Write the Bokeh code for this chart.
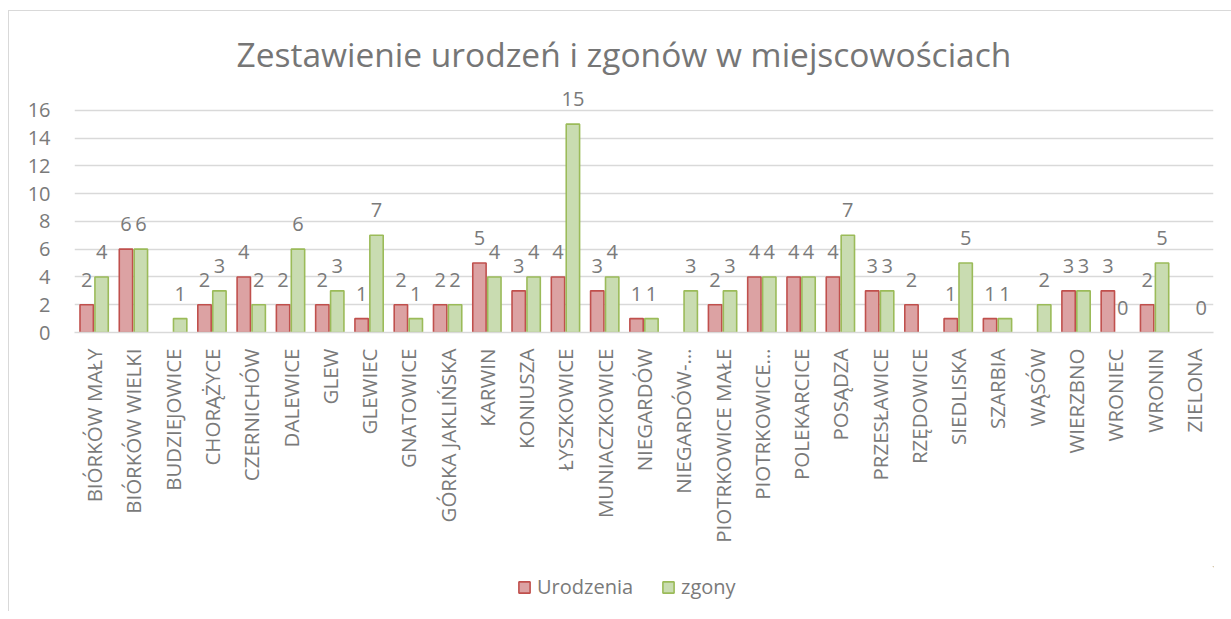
from bokeh.plotting import figure
from bokeh.layouts import column
from bokeh.models import (ColumnDataSource, FactorRange, Range1d, FixedTicker,
                          Legend, LegendItem)
from bokeh.transform import dodge
from bokeh.embed import file_html
from bokeh.resources import INLINE
from bokeh.core.properties import value

# ---- data ----
miejscowosci = [
    "BIÓRKÓW MAŁY", "BIÓRKÓW WIELKI", "BUDZIEJOWICE", "CHORĄŻYCE", "CZERNICHÓW",
    "DALEWICE", "GLEW", "GLEWIEC", "GNATOWICE", "GÓRKA JAKLIŃSKA", "KARWIN",
    "KONIUSZA", "ŁYSZKOWICE", "MUNIACZKOWICE", "NIEGARDÓW", "NIEGARDÓW-…",
    "PIOTRKOWICE MAŁE", "PIOTRKOWICE…", "POLEKARCICE", "POSĄDZA", "PRZESŁAWICE",
    "RZĘDOWICE", "SIEDLISKA", "SZARBIA", "WĄSÓW", "WIERZBNO", "WRONIEC",
    "WRONIN", "ZIELONA",
]
urodzenia = [2, 6, None, 2, 4, 2, 2, 1, 2, 2, 5, 3, 4, 3, 1, None, 2, 4, 4, 4,
             3, 2, 1, 1, None, 3, 3, 2, None]
zgony = [4, 6, 1, 3, 2, 6, 3, 7, 1, 2, 4, 4, 15, 4, 1, 3, 3, 4, 4, 7, 3, None,
         5, 1, 2, 3, 0, 5, 0]
y_ticks = [0, 2, 4, 6, 8, 10, 12, 14, 16]

series_names = ["Urodzenia", "zgony"]
fill_colors = ["#dca2a3", "#c9dcb1"]
line_colors = ["#c0504d", "#9bbb59"]
offsets = [-0.19, 0.19]

TEXT = "#7a7a7a"
FONT = "Open Sans"

# ---------------- main chart ----------------
p = figure(
    x_range=FactorRange(*miejscowosci, range_padding=0),
    y_range=Range1d(0, 18),
    width=1222, height=555,
    output_backend="svg", toolbar_location=None,
    min_border_left=65, min_border_right=18, min_border_top=71,
    min_border_bottom=234,
)
p.outline_line_color = None
p.background_fill_color = "white"
p.border_fill_color = "white"

p.title.text = "Zestawienie urodzeń i zgonów w miejscowościach"
p.title.text_font = FONT
p.title.text_font_size = "33.5px"
p.title.text_font_style = "normal"
p.title.text_color = "#767676"
p.title.align = "left"
p.title.offset = 162
p.title.standoff = 11

p.xgrid.grid_line_color = None
p.ygrid.grid_line_color = "#d9d9d9"
p.ygrid.grid_line_width = 1.3
p.yaxis.ticker = FixedTicker(ticks=y_ticks)
p.yaxis.axis_line_color = None
p.yaxis.major_tick_line_color = None
p.yaxis.minor_tick_line_color = None
p.yaxis.major_label_text_font = FONT
p.yaxis.major_label_text_font_size = "20px"
p.yaxis.major_label_text_color = TEXT
p.yaxis.major_label_standoff = 18

p.xaxis.axis_line_color = "#d9d9d9"
p.xaxis.axis_line_width = 1.3
p.xaxis.major_tick_line_color = None
p.xaxis.minor_tick_line_color = None
p.xaxis.major_label_orientation = 1.5707963
p.xaxis.major_label_text_font = FONT
p.xaxis.major_label_text_font_size = "20.5px"
p.xaxis.major_label_text_color = TEXT
p.xaxis.major_label_standoff = 10

for name, vals, fc, lc, off in zip(series_names, [urodzenia, zgony],
                                   fill_colors, line_colors, offsets):
    bar_src = ColumnDataSource(dict(
        x=[c for c, v in zip(miejscowosci, vals) if v],
        top=[v for v in vals if v],
    ))
    lab_src = ColumnDataSource(dict(
        x=[c for c, v in zip(miejscowosci, vals) if v is not None],
        y=[v for v in vals if v is not None],
        t=[str(v) for v in vals if v is not None],
    ))
    p.vbar(x=dodge("x", off, range=p.x_range), top="top", bottom=0,
           width=0.34, source=bar_src, fill_color=fc, line_color=lc,
           line_width=1.6)
    p.text(x=dodge("x", off, range=p.x_range), y="y", text="t", source=lab_src,
           text_align="center", text_baseline="alphabetic", y_offset=-25,
           text_font=value(FONT), text_font_size="20px", text_color=TEXT)

# ---------------- legend strip ----------------
lf = figure(width=1222, height=45, output_backend="svg", toolbar_location=None,
            x_axis_location=None, y_axis_location=None,
            min_border=0, min_border_left=0, min_border_right=0,
            min_border_top=0, min_border_bottom=0,
            x_range=Range1d(0, 1), y_range=Range1d(0, 1))
lf.grid.visible = False
lf.outline_line_color = None
lf.border_fill_color = "white"
lf.background_fill_color = "white"
legend_items = []
for name, fc, lc in zip(series_names, fill_colors, line_colors):
    # legend swatch source: a single bar kept outside the strip's visible range
    r = lf.vbar(x=[5], top=[5], bottom=[4], width=0.5, fill_color=fc,
                line_color=lc, line_width=1.6)
    legend_items.append(LegendItem(label=name, renderers=[r]))
legend = Legend(items=legend_items, orientation="horizontal", location=(443, 11),
                glyph_width=14, glyph_height=14, spacing=28, label_standoff=6,
                label_text_font=FONT, label_text_font_size="20px",
                label_height=20, label_text_color=TEXT, border_line_alpha=0,
                background_fill_alpha=0, padding=0, margin=0)
lf.add_layout(legend, "center")

layout = column(p, lf, spacing=0)
layout.margin = (10, 0, 0, 8)
layout.styles = {"border-left": "1px solid #d9d9d9",
                 "border-top": "1px solid #d9d9d9"}

open("out.html", "w").write(file_html(layout, INLINE))
